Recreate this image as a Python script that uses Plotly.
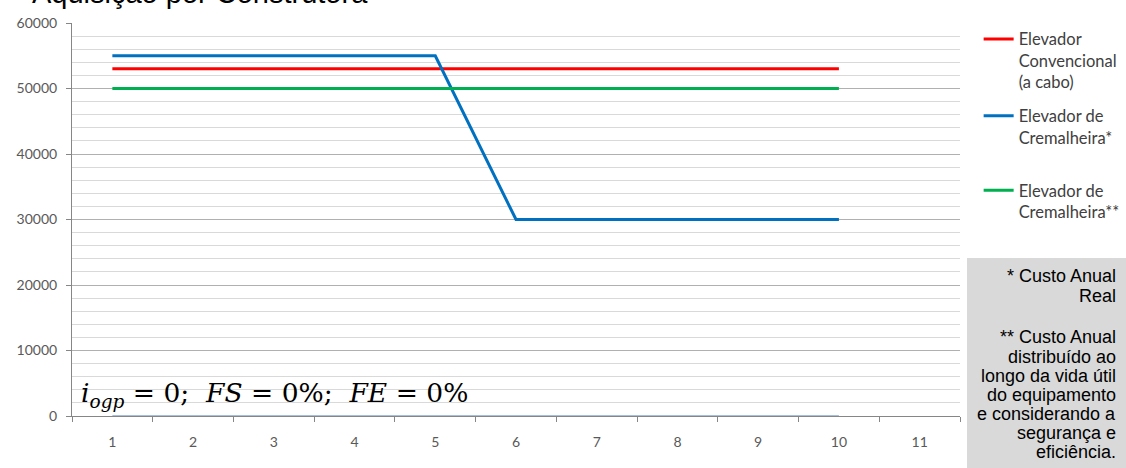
import plotly.graph_objects as go

# Períodos (anos) exibidos no eixo horizontal
anos = ["1", "2", "3", "4", "5", "6", "7", "8", "9", "10", "11"]
periodos = ["1", "2", "3", "4", "5", "6", "7", "8", "9", "10"]

# Custos anuais por tipo de elevador
convencional = [53000, 53000, 53000, 53000, 53000, 53000, 53000, 53000, 53000, 53000]
cremalheira_real = [55000, 55000, 55000, 55000, 55000, 30000, 30000, 30000, 30000, 30000]
cremalheira_distribuido = [50000, 50000, 50000, 50000, 50000, 50000, 50000, 50000, 50000, 50000]
linha_base = [0, 0, 0, 0, 0, 0, 0, 0, 0, 0]

nomes = [
    "Elevador<br>Convencional<br>(a cabo)",
    "Elevador de<br>Cremalheira*",
    "Elevador de<br>Cremalheira**",
]

# Notas explicativas (uma linha por item; "" = linha em branco)
notas = [
    "* Custo Anual", "Real", "", "** Custo Anual", "distribuído ao",
    "longo da vida útil", "do equipamento", "e considerando a",
    "segurança e", "eficiência.",
]

fig = go.Figure()
fig.add_trace(go.Scatter(x=periodos, y=linha_base, mode="lines",
                         line=dict(color="#4a7ebb", width=1), showlegend=False,
                         hoverinfo="skip"))
fig.add_trace(go.Scatter(x=periodos, y=convencional, mode="lines", name=nomes[0],
                         line=dict(color="#ff0000", width=3), legend="legend"))
fig.add_trace(go.Scatter(x=periodos, y=cremalheira_real, mode="lines", name=nomes[1],
                         line=dict(color="#0070c0", width=3), legend="legend2"))
fig.add_trace(go.Scatter(x=periodos, y=cremalheira_distribuido, mode="lines", name=nomes[2],
                         line=dict(color="#00b050", width=3), legend="legend3"))

legend_font = dict(family="Lato, Carlito, sans-serif", size=16.5, color="#404040")
leg = dict(xanchor="left", yanchor="top", font=legend_font, valign="top",
           bgcolor="rgba(0,0,0,0)", itemwidth=30, tracegroupgap=0)

fig.update_layout(
    width=1126, height=468,
    margin=dict(l=72, r=166, t=23, b=52, autoexpand=False),
    paper_bgcolor="white", plot_bgcolor="white",
    legend=dict(x=1.021, y=1.003, **leg),
    legend2=dict(x=1.021, y=0.808, **leg),
    legend3=dict(x=1.021, y=0.618, **leg),
    xaxis=dict(
        type="category", categoryorder="array", categoryarray=anos,
        tickvals=anos, range=[-0.5, 10.5],
        showgrid=False, showline=True, linecolor="#868686", linewidth=1,
        ticks="outside", tickson="boundaries", ticklen=5, tickcolor="#868686",
        ticklabelstandoff=13, zeroline=False,
        tickfont=dict(family="Lato, Carlito, sans-serif", size=14, color="#595959"),
    ),
    yaxis=dict(
        range=[0, 60000], dtick=10000, tickformat="d",
        showgrid=True, gridcolor="#b0b0b0", gridwidth=1,
        minor=dict(dtick=2000, showgrid=True, gridcolor="#d9d9d9", gridwidth=1),
        showline=True, linecolor="#868686", linewidth=1,
        ticks="outside", ticklen=5, tickcolor="#868686",
        ticklabelstandoff=6, zeroline=False,
        tickfont=dict(family="Lato, Carlito, sans-serif", size=14, color="#595959"),
    ),
)

# Caixa de notas à direita
fig.add_shape(type="rect", xref="paper", yref="paper",
              x0=1.0079, x1=1.19, y0=0.402, y1=-0.14,
              fillcolor="#d9d9d9", line=dict(width=0), layer="below")

# Posição vertical (px a partir do topo) de cada linha das notas
linhas_px = [276, 296, 317, 337, 357, 376, 395, 414, 433, 452]
for texto, ypx in zip(notas, linhas_px):
    if not texto:
        continue
    fig.add_annotation(
        xref="paper", yref="paper", x=1.178, y=(416 - ypx) / 393,
        xanchor="right", yanchor="middle", align="right", showarrow=False,
        font=dict(family="Liberation Sans, Arial, sans-serif", size=18, color="#000000"),
        text=texto,
    )

# Título (parcialmente acima da área visível)
fig.add_annotation(
    xref="paper", yref="paper", x=-0.047, y=1.030, xanchor="left", yanchor="bottom",
    showarrow=False, text="Aquisição por Construtora",
    font=dict(family="Liberation Sans, Arial, sans-serif", size=29, color="#000000"),
)

# Parâmetros da simulação
fig.add_annotation(
    xref="paper", yref="paper", x=0.008, y=0.005, xanchor="left", yanchor="bottom",
    showarrow=False,
    text=("<i>i</i><sub><i>ogp</i></sub> = 0;  <i>FS</i> = 0%;  <i>FE</i> = 0%"),
    font=dict(family="DejaVu Serif, serif", size=26.5, color="#000000"),
)

fig.write_html("out.html")
